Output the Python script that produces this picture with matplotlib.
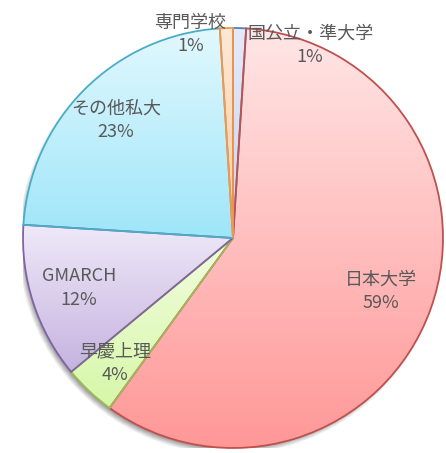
import numpy as np
import matplotlib.pyplot as plt
from matplotlib.colors import LinearSegmentedColormap

plt.rcParams['font.family'] = ['Noto Sans CJK JP', 'DejaVu Sans']

# データ
labels = ['国公立・準大学', '日本大学', '早慶上理', 'GMARCH', 'その他私大', '専門学校']
values = [1, 59, 4, 12, 23, 1]

# 色 (上 -> 下のグラデーション, 枠線)
top_colors = ['#e4eaf8', '#ffe6e6', '#f2fde0', '#efe9f8', '#e2f8fe', '#fde8d6']
bottom_colors = ['#c8d4ee', '#ff9797', '#d6f7a8', '#c5b3e0', '#9ee6f9', '#fbc9a0']
edge_colors = ['#4f81bd', '#c0504d', '#9bbb59', '#8064a2', '#4bacc6', '#f79646']

# ラベル位置 (角度のずれ, 半径)
lab_dang = [-20, 0, 0, 0, 0, 10]
lab_r = [0.99, 0.75, 0.82, 0.77, 0.79, 0.99]

fig = plt.figure(figsize=(4.46, 4.53), dpi=100)
ax = fig.add_axes([23/446, 5/453, 420/446, 420/453])

# 影
g = np.linspace(-1.1, 1.1, 400)
X, Y = np.meshgrid(g, g)
d = np.sqrt((X + 0.015)**2 + (Y + 0.022)**2)
sh = np.clip((1.012 - d) / 0.04, 0, 1)
shadow = np.zeros((400, 400, 4))
shadow[..., 3] = 0.5 * sh
ax.imshow(shadow, extent=(-1.1, 1.1, -1.1, 1.1), origin='lower', zorder=0)

wedges, _ = ax.pie(values, startangle=90, counterclock=False, radius=1,
                   wedgeprops=dict(linewidth=1.3))

for i, w in enumerate(wedges):
    w.set_facecolor('none')
    w.set_edgecolor(edge_colors[i])
    w.set_zorder(3)
    v = w.get_path().vertices
    x0, x1 = v[:, 0].min(), v[:, 0].max()
    y0, y1 = v[:, 1].min(), v[:, 1].max()
    cmap = LinearSegmentedColormap.from_list('c%d' % i, [bottom_colors[i], top_colors[i]])
    grad = np.linspace(0, 1, 256).reshape(-1, 1)
    im = ax.imshow(grad, extent=(x0, x1, y0, y1), origin='lower', cmap=cmap,
                   aspect='auto', zorder=2, interpolation='bilinear')
    im.set_clip_path(w)

    ang = np.deg2rad((w.theta1 + w.theta2) / 2 + lab_dang[i])
    tx = lab_r[i] * np.cos(ang)
    ty = lab_r[i] * np.sin(ang)
    ax.text(tx, ty, labels[i] + '\n' + str(values[i]) + '%', ha='center', va='center',
            fontsize=13, color='#595959', linespacing=1.4, zorder=5)

ax.set_xlim(-1, 1)
ax.set_ylim(-1, 1)
ax.set_aspect('equal')
ax.axis('off')

fig.savefig('out.png', dpi=100)
